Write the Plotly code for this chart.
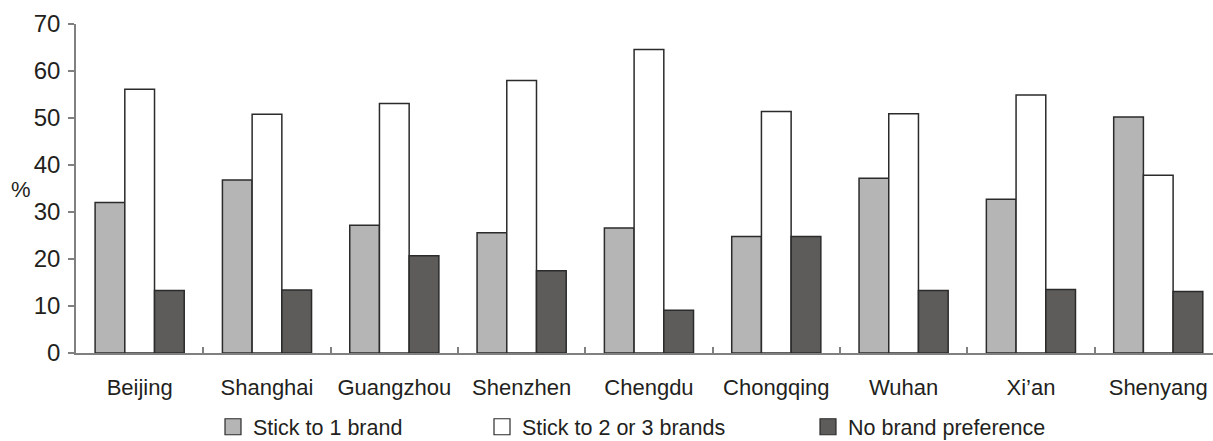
import plotly.graph_objects as go

cities = ["Beijing", "Shanghai", "Guangzhou", "Shenzhen", "Chengdu",
          "Chongqing", "Wuhan", "Xi\u2019an", "Shenyang"]
stick_one = [32.0, 36.8, 27.2, 25.6, 26.6, 24.8, 37.2, 32.7, 50.2]
stick_two_three = [56.1, 50.8, 53.1, 58.0, 64.6, 51.4, 50.9, 54.9, 37.8]
no_pref = [13.3, 13.4, 20.7, 17.5, 9.1, 24.8, 13.3, 13.5, 13.1]
series_names = ["Stick to 1 brand", "Stick to 2 or 3 brands", "No brand preference"]
y_ticks = [0, 10, 20, 30, 40, 50, 60, 70]

colors = ["#b5b5b5", "#ffffff", "#5e5c5a"]
FONT = "Liberation Sans, Arial, Helvetica, sans-serif"
OUTLINE = "#2b2b2b"

PLOT_L, PLOT_W = 76, 1137
legend_ids = ["legend", "legend2", "legend3"]
legend_px = [213, 482, 808]  # left edge of each legend entry, in pixels

fig = go.Figure()
for name, vals, col, lid in zip(series_names, [stick_one, stick_two_three, no_pref],
                                colors, legend_ids):
    fig.add_trace(go.Bar(
        x=cities, y=vals, name=name, showlegend=False,
        marker=dict(color=col, line=dict(color=OUTLINE, width=1.5)),
    ))
    # legend swatch (larger square than the default bar swatch)
    fig.add_trace(go.Scatter(
        x=[None], y=[None], name=name, mode="markers", legend=lid,
        marker=dict(symbol="square", size=16, color=col,
                    line=dict(color=OUTLINE, width=1.2)),
    ))

legend_common = dict(orientation="h", xanchor="left", y=-0.162, yanchor="top",
                     font=dict(size=21.5), itemwidth=30, bgcolor="rgba(0,0,0,0)")

fig.update_layout(
    width=1213, height=441,
    margin=dict(l=PLOT_L, r=0, t=24, b=88, autoexpand=False),
    paper_bgcolor="white", plot_bgcolor="white",
    barmode="group", bargap=0.3, bargroupgap=0,
    font=dict(family=FONT, size=20, color="#231f20"),
    showlegend=True,
    legend=dict(x=(legend_px[0] - PLOT_L) / PLOT_W, **legend_common),
    legend2=dict(x=(legend_px[1] - PLOT_L) / PLOT_W, **legend_common),
    legend3=dict(x=(legend_px[2] - PLOT_L) / PLOT_W, **legend_common),
    xaxis=dict(
        range=[-0.5, 8.43], showline=True, linecolor="#808080", linewidth=1.5,
        ticks="inside", tickson="boundaries", ticklen=6, tickcolor="#808080",
        tickwidth=1.5, showgrid=False, tickfont=dict(size=22), ticklabelstandoff=14,
    ),
    yaxis=dict(
        range=[0, 70], tickvals=y_ticks, showline=True, linecolor="#808080",
        linewidth=1.5, ticks="outside", ticklen=6, tickcolor="#808080", tickwidth=1.5,
        showgrid=False, zeroline=False, tickfont=dict(size=24), ticklabelstandoff=3,
    ),
    annotations=[dict(text="%", xref="paper", yref="y", x=(21 - PLOT_L) / PLOT_W, y=34.7,
                      showarrow=False, xanchor="center", yanchor="middle",
                      font=dict(size=22))],
)

fig.write_html(
    "out.html",
    config={"displayModeBar": False},
    post_script="document.body.style.margin='0';document.body.style.overflow='hidden';",
)
